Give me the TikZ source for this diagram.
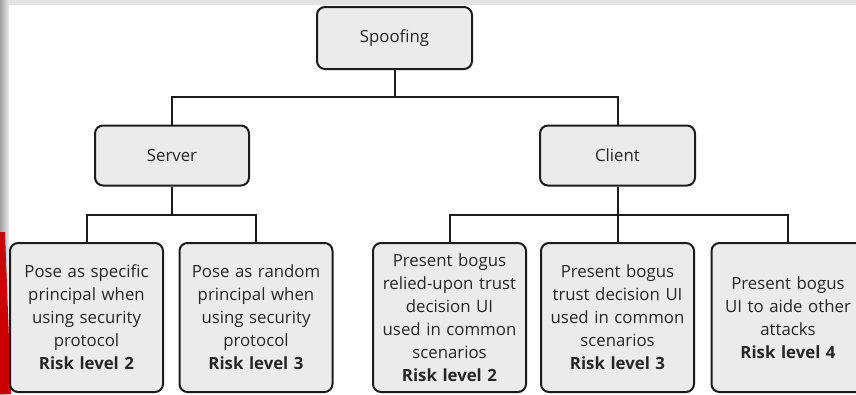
\documentclass[tikz,border=0pt]{standalone}
\usepackage{fontspec}
\setmainfont{Open Sans}
\definecolor{boxgray}{HTML}{EBEBEB}
\definecolor{txt}{HTML}{262626}
\definecolor{edge}{HTML}{1C1C1C}
\begin{document}
\begin{tikzpicture}[x=1pt,y=-1pt,
  box/.style={draw=edge, line width=2pt, rounded corners=8pt, fill=boxgray,
    inner sep=0pt, align=center, text=txt, font=\fontsize{16.8}{23}\selectfont},
  topbox/.style={box, minimum height=60pt},
  leaf/.style={box, minimum width=153pt, minimum height=149pt, text width=150pt},
  conn/.style={draw=edge, line width=2pt}]
\useasboundingbox (0,0) rectangle (856,394);
\clip (0,0) rectangle (856,394);
\fill[white] (0,0) rectangle (856,394);
% decorative slide edges
\fill[gray!22] (0,0) rectangle (856,5);
\shade[left color=gray!75, right color=gray!15] (0,0) rectangle (9,394);
\fill[red!80!black] (0,232) -- (5,232) -- (11,394) -- (0,394) -- cycle;
% nodes
\node[topbox, minimum width=155pt, minimum height=62pt] (spoof) at (394.5,38) {Spoofing};
\node[topbox, minimum width=154pt] (server) at (172,155.5) {Server};
\node[topbox, minimum width=155pt] (client) at (617.5,155.5) {Client};
\node[leaf] (l1) at (86.5,317.5) {Pose as specific\\principal when\\using security\\protocol\\\textbf{Risk level 2}};
\node[leaf] (l2) at (256,317.5) {Pose as random\\principal when\\using security\\protocol\\\textbf{Risk level 3}};
\node[leaf] (l3) at (449.5,317.5) {Present bogus\\relied-upon trust\\decision UI\\used in common\\scenarios\\\textbf{Risk level 2}};
\node[leaf] (l4) at (617.5,317.5) {Present bogus\\trust decision UI\\used in common\\scenarios\\\textbf{Risk level 3}};
\node[leaf] (l5) at (788,317.5) {Present bogus\\UI to aide other\\attacks\\\textbf{Risk level 4}};
% connectors
\coordinate (b0) at (394.5,97);
\coordinate (b1) at (172,215);
\coordinate (b2) at (617.5,215);
\draw[conn] (spoof.south) -- (b0);
\draw[conn] (server.north) |- (b0) -| (client.north);
\draw[conn] (server.south) -- (b1);
\draw[conn] (l1.north) |- (b1) -| (l2.north);
\draw[conn] (client.south) -- (b2);
\draw[conn] (l3.north) |- (b2) -| (l5.north);
\draw[conn] (b2) -- (l4.north);
\end{tikzpicture}
\end{document}
